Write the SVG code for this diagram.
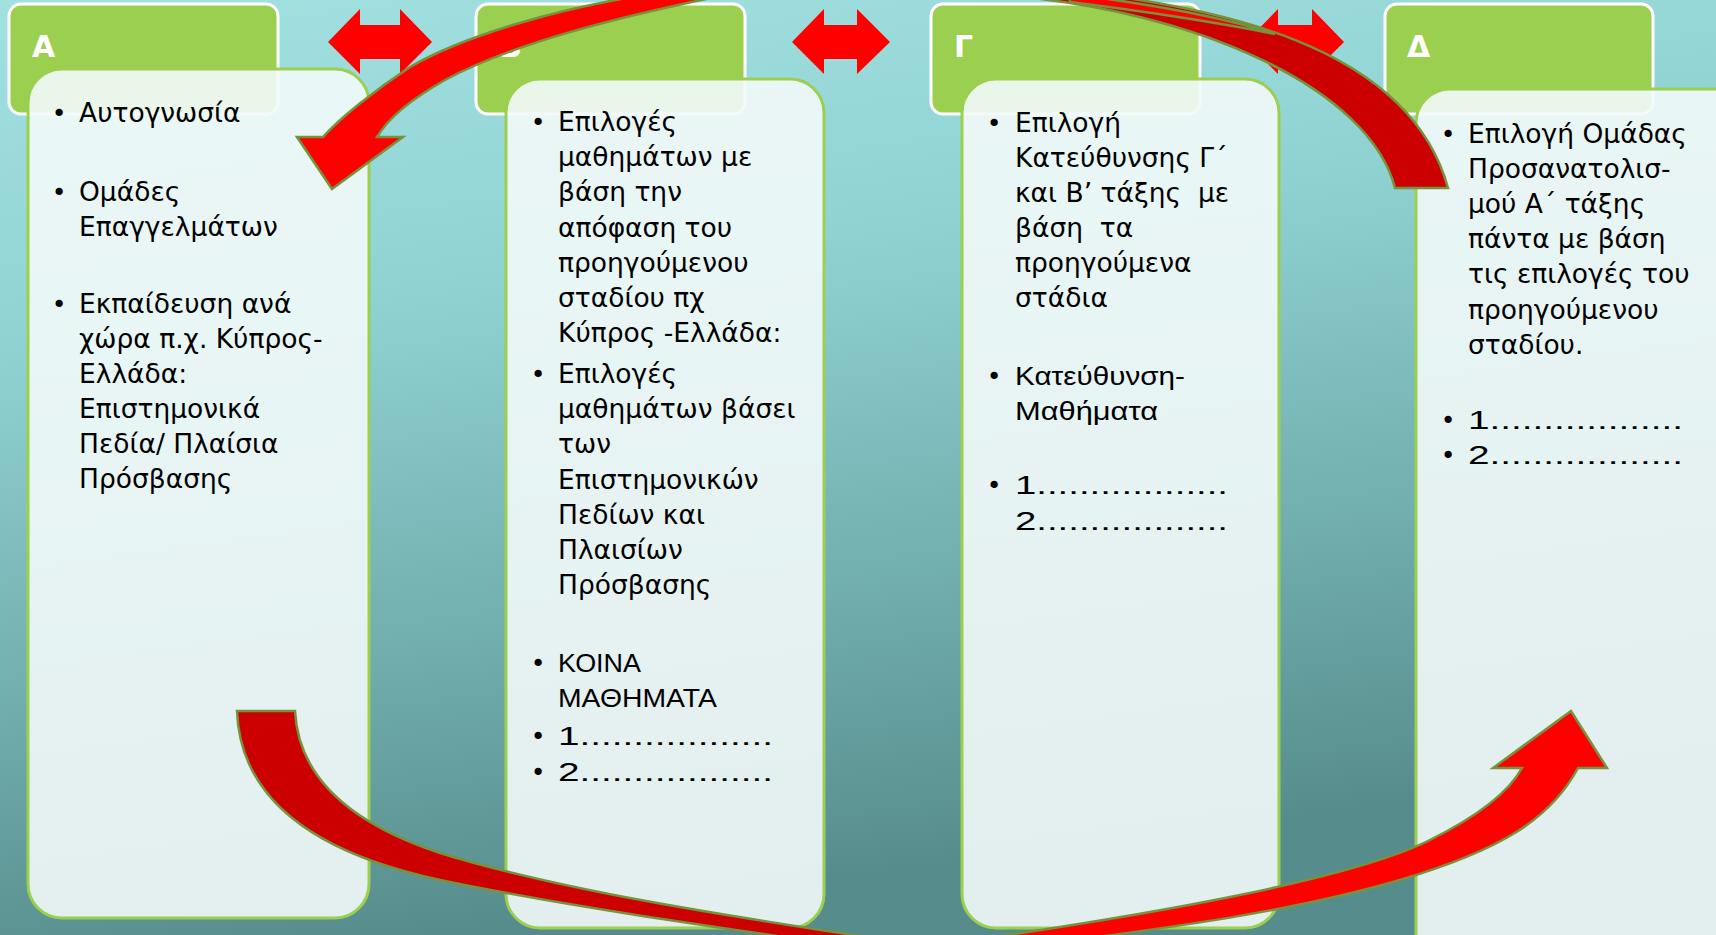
<svg xmlns="http://www.w3.org/2000/svg" width="1716" height="935" viewBox="0 0 1716 935">
<defs>
<linearGradient id="bg" x1="0" y1="0" x2="0.25" y2="1">
<stop offset="0" stop-color="#a3e1e1"/>
<stop offset="0.35" stop-color="#90d2d2"/>
<stop offset="0.7" stop-color="#72afaf"/>
<stop offset="1" stop-color="#578c8c"/>
</linearGradient>
<style>
.hdr{fill:#9bcf4f;stroke:#ffffff;stroke-width:3}
.box{fill:#f3f9f9;fill-opacity:0.9;stroke:#9bcf4f;stroke-width:3}
.hl{font-family:"DejaVu Sans",sans-serif;font-weight:bold;font-size:30px;fill:#ffffff}
.t{font-family:"DejaVu Sans",sans-serif;font-size:26.5px;fill:#000000;white-space:pre}
.r{font-family:"Liberation Sans",sans-serif;font-size:26px;fill:#000000}
.b{font-family:"DejaVu Sans",sans-serif;font-size:25px;fill:#000000;text-anchor:middle}
.dbl{fill:#ff0000}
.ca{stroke:#76923c;stroke-width:2.5;stroke-linejoin:miter}
.front{fill:#ff0000}
.back{fill:#cc0000}
</style>
</defs>
<rect x="0" y="0" width="1716" height="935" fill="url(#bg)"/>

<g id="node-A">
<rect class="hdr" x="9" y="4" width="269" height="110" rx="12"/>
<text class="hl" x="32" y="57">A</text>
<rect class="box" x="28" y="69" width="341" height="849" rx="34"/>
<text class="b" x="59" y="122">•</text><text class="t" x="79" y="122">Αυτογνωσία</text>
<text class="b" x="59" y="201">•</text><text class="t" x="79" y="201">Ομάδες</text>
<text class="t" x="79" y="236">Επαγγελμάτων</text>
<text class="b" x="59" y="313">•</text><text class="t" x="79" y="313">Εκπαίδευση ανά</text>
<text class="t" x="79" y="348">χώρα π.χ. Κύπρος-</text>
<text class="t" x="79" y="383">Ελλάδα:</text>
<text class="t" x="79" y="418">Επιστημονικά</text>
<text class="t" x="79" y="453">Πεδία/ Πλαίσια</text>
<text class="t" x="79" y="488">Πρόσβασης</text>
</g>

<g id="node-B">
<rect class="hdr" x="476" y="4" width="269" height="110" rx="12"/>
<text class="hl" x="499" y="57">B</text>
<rect class="box" x="506" y="79" width="318" height="849" rx="34"/>
<text class="b" x="538" y="131">•</text><text class="t" x="558" y="131">Επιλογές</text>
<text class="t" x="558" y="166.2">μαθημάτων με</text>
<text class="t" x="558" y="201.4">βάση την</text>
<text class="t" x="558" y="236.6">απόφαση του</text>
<text class="t" x="558" y="271.8">προηγούμενου</text>
<text class="t" x="558" y="307">σταδίου πχ</text>
<text class="t" x="558" y="342.2">Κύπρος -Ελλάδα:</text>
<text class="b" x="538" y="383">•</text><text class="t" x="558" y="383">Επιλογές</text>
<text class="t" x="558" y="418.2">μαθημάτων βάσει</text>
<text class="t" x="558" y="453.4">των</text>
<text class="t" x="558" y="488.6">Επιστημονικών</text>
<text class="t" x="558" y="523.8">Πεδίων και</text>
<text class="t" x="558" y="559">Πλαισίων</text>
<text class="t" x="558" y="594.2">Πρόσβασης</text>
<text class="b" x="538" y="672">•</text><text class="r" x="558" y="672" textLength="83" lengthAdjust="spacingAndGlyphs">ΚΟΙΝΑ</text>
<text class="r" x="558" y="707" textLength="159" lengthAdjust="spacingAndGlyphs">ΜΑΘΗΜΑΤΑ</text>
<text class="b" x="538" y="745">•</text><text class="r" x="558" y="745" textLength="215" lengthAdjust="spacingAndGlyphs">1..................</text>
<text class="b" x="538" y="781">•</text><text class="r" x="558" y="781" textLength="215" lengthAdjust="spacingAndGlyphs">2..................</text>
</g>

<g id="node-G">
<rect class="hdr" x="931" y="4" width="269" height="110" rx="12"/>
<text class="hl" x="954" y="57">Γ</text>
<rect class="box" x="962" y="79" width="317" height="849" rx="34"/>
<text class="b" x="994" y="132">•</text><text class="t" x="1015" y="132">Επιλογή</text>
<text class="t" x="1015" y="167">Κατεύθυνσης Γ΄</text>
<text class="t" x="1015" y="202">και Β’ τάξης  με</text>
<text class="t" x="1015" y="237">βάση  τα</text>
<text class="t" x="1015" y="272">προηγούμενα</text>
<text class="t" x="1015" y="307">στάδια</text>
<text class="b" x="994" y="385">•</text><text class="r" x="1015" y="385" textLength="170" lengthAdjust="spacingAndGlyphs">Κατεύθυνση-</text>
<text class="r" x="1015" y="420" textLength="143" lengthAdjust="spacingAndGlyphs">Μαθήματα</text>
<text class="b" x="994" y="494">•</text><text class="r" x="1015" y="494" textLength="213" lengthAdjust="spacingAndGlyphs">1..................</text>
<text class="r" x="1015" y="530" textLength="213" lengthAdjust="spacingAndGlyphs">2..................</text>
</g>

<g id="node-D">
<rect class="hdr" x="1385" y="4" width="268" height="110" rx="12"/>
<text class="hl" x="1407" y="57">Δ</text>
<rect class="box" x="1416" y="89" width="340" height="900" rx="34"/>
<text class="b" x="1448" y="142.5">•</text><text class="t" x="1468" y="142.5">Επιλογή Ομάδας</text>
<text class="t" x="1468" y="177.7">Προσανατολισ-</text>
<text class="t" x="1468" y="212.9">μού Α΄ τάξης</text>
<text class="t" x="1468" y="248.1">πάντα με βάση</text>
<text class="t" x="1468" y="283.3">τις επιλογές του</text>
<text class="t" x="1468" y="318.5">προηγούμενου</text>
<text class="t" x="1468" y="353.7">σταδίου.</text>
<text class="b" x="1448" y="429">•</text><text class="r" x="1468" y="429" textLength="215" lengthAdjust="spacingAndGlyphs">1..................</text>
<text class="b" x="1448" y="464">•</text><text class="r" x="1468" y="464" textLength="215" lengthAdjust="spacingAndGlyphs">2..................</text>
</g>

<g id="connectors">
<path class="dbl" d="M328,42 L360,9 L360,25 L400,25 L400,9 L432,42 L400,74 L400,59 L360,59 L360,74 Z"/>
<path class="dbl" d="M792,42 L824,9 L824,25 L857,25 L857,9 L890,42 L857,74 L857,59 L824,59 L824,74 Z"/>
<path class="dbl" d="M1246,42 L1278,9 L1278,25 L1312,25 L1312,9 L1344,42 L1312,74 L1312,59 L1278,59 L1278,74 Z"/>
<path class="ca back" d="M1000,-15 C1230,0 1410,50 1448,188 L1395,188 C1370,90 1200,10 1000,-5 Z"/>
<path class="ca front" d="M1070,-6 C1150,4 1220,16 1275,34 C1215,22 1150,12 1070,2 Z"/>
<path class="ca front" d="M332,189 L297,137 L323,137 C340,118 375,90 410,67 C460,38 560,5 680,-10 L740,-8 C610,18 510,45 445,80 C415,97 390,115 377,137 L403,137 Z"/>
<path class="ca back" d="M237,711 L295,711 C298,770 340,820 440,853 C560,890 720,915 900,942 L860,948 C700,925 560,905 440,880 C300,850 240,790 237,711 Z"/>
<path class="ca front" d="M940,945 C1150,915 1350,880 1430,840 C1480,815 1510,790 1522,768 L1493,768 L1571,711 L1607,768 L1578,768 C1550,820 1500,850 1400,880 C1280,915 1150,930 1000,950 Z"/>
</g>
</svg>
